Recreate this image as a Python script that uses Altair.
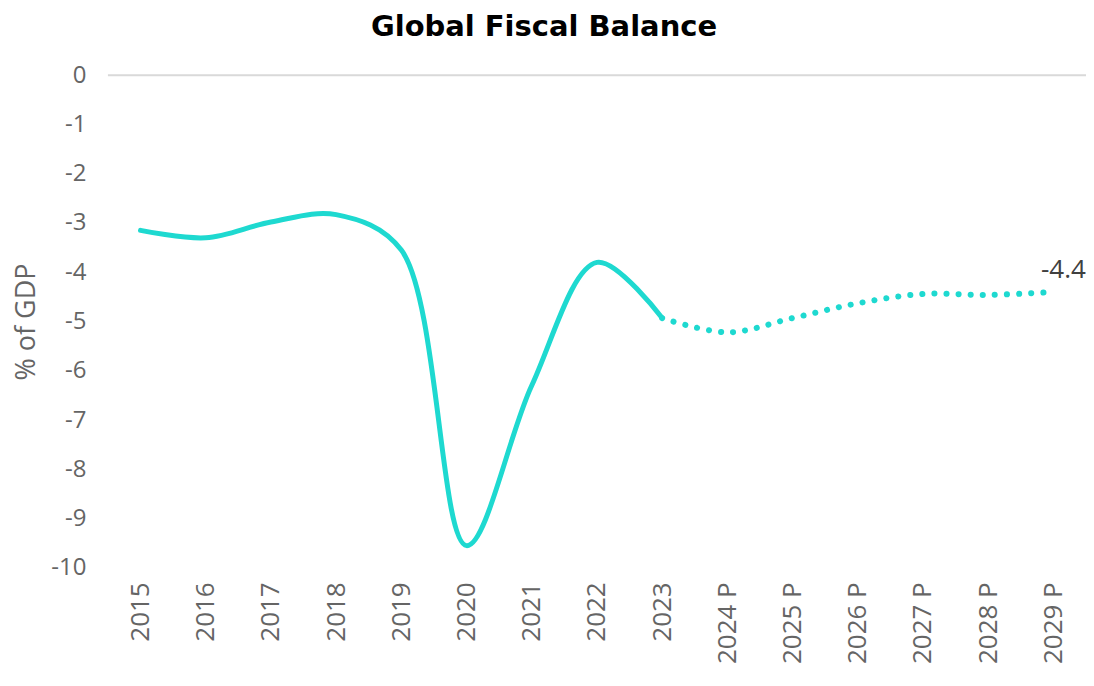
import altair as alt
import pandas as pd

years = ["2015", "2016", "2017", "2018", "2019", "2020", "2021", "2022", "2023",
         "2024 P", "2025 P", "2026 P", "2027 P", "2028 P", "2029 P"]
balance = [-3.15, -3.3, -2.98, -2.83, -3.55, -9.55, -6.3, -3.8, -4.93,
           -5.22, -4.93, -4.63, -4.44, -4.46, -4.4]
split_index = 8  # last actual year (2023)

df = pd.DataFrame({"year": years, "value": balance})
actual = df.iloc[: split_index + 1]
proj = df.iloc[split_index:]
last = df.iloc[[-1]].assign(label=lambda d: d["value"].map(lambda v: f"{v:.1f}"))

FONT = "Open Sans"
COLOR = "#1ED9D0"
GRAY = "#656565"

x = alt.X("year:N", sort=years, scale=alt.Scale(type="point", padding=0.5),
          axis=alt.Axis(title=None, labelAngle=-90, labelAlign="right", labelBaseline="middle",
                        labelFontSize=26, labelColor=GRAY, labelFont=FONT,
                        ticks=False, domain=False, labelPadding=14))
y = alt.Y("value:Q", scale=alt.Scale(domain=[-10, 0], nice=False, zero=False),
          axis=alt.Axis(title="% of GDP", values=list(range(-10, 1)), grid=False,
                        labelExpr="toString(datum.value)",
                        ticks=False, domain=False, labelFontSize=24, labelColor=GRAY,
                        labelFont=FONT, labelPadding=22, titleFontSize=27,
                        titleColor=GRAY, titleFont=FONT, titleFontWeight="normal",
                        titlePadding=10))

zero_rule = alt.Chart(pd.DataFrame({"z": [0]})).mark_rule(color="#D9D9D9", strokeWidth=2).encode(
    y=alt.Y("z:Q", scale=alt.Scale(domain=[-10, 0], nice=False)))

solid = alt.Chart(actual).mark_line(color=COLOR, strokeWidth=5, interpolate="catmull-rom",
                                    strokeCap="round").encode(x=x, y=y)
dotted = alt.Chart(proj).mark_line(color=COLOR, strokeWidth=6, interpolate="catmull-rom",
                                   strokeCap="round", strokeDash=[0.1, 12]).encode(x=x, y=y)
label = alt.Chart(last).mark_text(align="center", baseline="bottom", dx=10, dy=-9,
                                  fontSize=26, color="#404040", font=FONT).encode(
    x=x, y=y, text="label:N")

chart = alt.layer(zero_rule, solid, dotted, label).properties(
    width=979, height=493,
    title=alt.TitleParams("Global Fiscal Balance", fontSize=29, font="DejaVu Sans",
                          fontWeight="bold", color="#000000", anchor="middle",
                          offset=21, dx=-53),
    autosize=alt.AutoSizeParams(type="none"),
    padding={"left": 100, "top": 67, "right": 0, "bottom": 100},
).configure_view(stroke=None)

chart.save("out.html", embed_options={"renderer": "svg", "actions": False})
